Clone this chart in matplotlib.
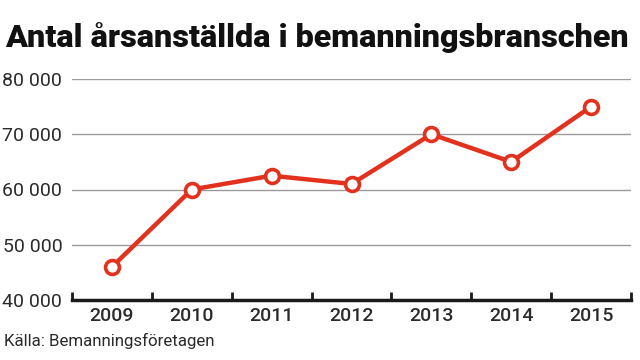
import matplotlib
matplotlib.use('Agg')
import matplotlib.pyplot as plt
from matplotlib.ticker import FuncFormatter, FixedLocator

years = ['2009', '2010', '2011', '2012', '2013', '2014', '2015']
employees = [46000, 60000, 62500, 61000, 70000, 65000, 75000]
yticks = [40000, 50000, 60000, 70000, 80000]

RED = '#e2311d'
TXT = '#2b2b2b'
plt.rcParams['font.family'] = ['Roboto', 'DejaVu Sans']

fig = plt.figure(figsize=(6.4, 3.6), dpi=100)
ax = fig.add_axes([72/640, 1 - 300/360, (631 - 72)/640, (300 - 79)/360])

x = range(len(years))
ax.plot(x, employees, color=RED, lw=3.2, marker='o', ms=10,
        mfc='white', mec=RED, mew=2.6, zorder=3, clip_on=False)

ax.set_xlim(-0.5, len(years) - 0.5)
ax.set_ylim(40000, 80000)
ax.set_yticks(yticks)
ax.yaxis.set_major_formatter(FuncFormatter(lambda v, p: f'{int(v):,}'.replace(',', ' ')))
ax.grid(axis='y', color='#9a9a9a', lw=1)
ax.set_axisbelow(True)

ax.set_xticks(list(x))
ax.set_xticklabels(years, weight='medium')
ax.xaxis.set_minor_locator(FixedLocator([i - 0.5 for i in range(len(years) + 1)]))
ax.tick_params(axis='x', which='major', length=0, pad=5, labelsize=14, labelcolor=TXT)
ax.tick_params(axis='x', which='minor', direction='in', length=6, width=2, color='#1a1a1a')
ax.tick_params(axis='y', length=0, pad=7, labelsize=14, labelcolor=TXT)

for s in ['top', 'right', 'left']:
    ax.spines[s].set_visible(False)
ax.spines['bottom'].set_color('#1a1a1a')
ax.spines['bottom'].set_linewidth(2.5)

fig.text(5/640, 1 - 47/360, 'Antal årsanställda i bemanningsbranschen',
         weight='black', fontsize=23.3, color='#111111', ha='left', va='baseline')
fig.text(4/640, 1 - 346/360, 'Källa: Bemanningsföretagen', fontsize=12.2,
         color=TXT, ha='left', va='baseline')

fig.savefig('out.png', dpi=100)
